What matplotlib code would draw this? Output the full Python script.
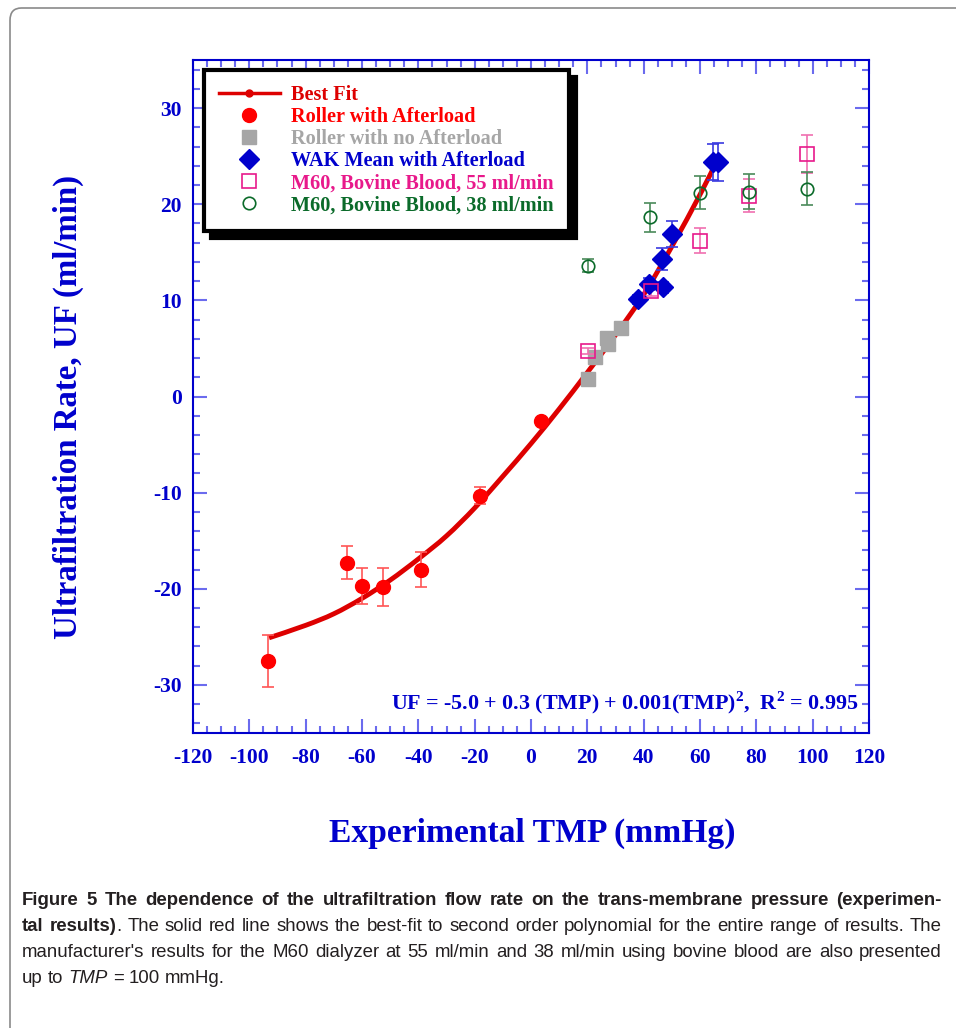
import numpy as np
import matplotlib.pyplot as plt
from matplotlib.lines import Line2D
from matplotlib.patches import FancyBboxPatch, PathPatch
from matplotlib.path import Path
from matplotlib.ticker import MultipleLocator

# 数据
fit_x = [-93, -80, -70, -60, -50, -40, -30, -20, -10, 0, 10, 20, 30, 40, 50, 60, 65.5]
fit_y = [-25.1, -23.8, -22.6, -21.0, -19.1, -16.9, -14.5, -11.6, -8.3, -4.9, -1.3, 2.5, 6.4, 10.6, 15.6, 21.0, 24.2]

roller_x = [-93.2, -65.4, -60.0, -52.5, -38.9, -18.0, 3.7]
roller_y = [-27.5, -17.3, -19.7, -19.8, -18.0, -10.3, -2.5]
roller_err = [2.7, 1.7, 1.9, 2.0, 1.8, 0.9, 0.0]

noload_x = [20.1, 22.8, 27.0, 27.5, 32.0]
noload_y = [1.8, 4.1, 6.1, 5.5, 7.1]

wak_x = [37.9, 41.8, 46.9, 46.4, 50.1, 64.5, 66.4]
wak_y = [10.1, 11.7, 11.35, 14.3, 16.9, 24.4, 24.4]
wak_err = [0.5, 0.6, 0.6, 1.1, 1.35, 1.9, 2.0]

m55_x = [20.2, 42.5, 60.1, 77.5, 98.0]
m55_y = [4.7, 11.0, 16.2, 20.9, 25.2]
m55_err = [0.3, 0.5, 1.3, 1.7, 2.0]

m38_x = [20.2, 42.4, 59.9, 77.4, 97.9]
m38_y = [13.6, 18.65, 21.2, 21.3, 21.6]
m38_err = [0.7, 1.5, 1.7, 1.8, 1.7]

legend_labels = ['Best Fit', 'Roller with Afterload', 'Roller with no Afterload',
                 'WAK Mean with Afterload', 'M60, Bovine Blood, 55 ml/min',
                 'M60, Bovine Blood, 38 ml/min']

BLUE = '#0000cc'
TICKC = '#6b6bee'
FITC = '#dd0000'
REDC = '#ff0000'
GRAYC = '#a6a6a6'
PINKC = '#e8198b'
GREENC = '#0b6b2a'

plt.rcParams['font.family'] = 'Liberation Serif'
plt.rcParams['font.weight'] = 'bold'
plt.rcParams['axes.unicode_minus'] = False
plt.rcParams['mathtext.fontset'] = 'custom'
plt.rcParams['mathtext.rm'] = 'Liberation Serif:bold'
plt.rcParams['mathtext.bf'] = 'Liberation Serif:bold'

fig = plt.figure(figsize=(9.56, 10.28), dpi=100)
ax = fig.add_axes([193 / 956, 1 - 733 / 1028, 676 / 956, 673 / 1028])

# 外框（圆角）
frame = FancyBboxPatch((10 / 956, -0.05), 1.2, 1 - 8 / 1028 + 0.05,
                       boxstyle='round,pad=0,rounding_size=0.012',
                       transform=fig.transFigure, fill=False,
                       edgecolor='#8a8a8a', lw=1.2, clip_on=False)
fig.patches.append(frame)

# 拟合曲线：用贝塞尔曲线平滑连接读出的点
px, py = np.array(fit_x, float), np.array(fit_y, float)
verts = [(px[0], py[0])]
codes = [Path.MOVETO]
for i in range(len(px) - 1):
    i0, i2, i3 = max(i - 1, 0), i + 1, min(i + 2, len(px) - 1)
    c1 = (px[i] + (px[i2] - px[i0]) / 6, py[i] + (py[i2] - py[i0]) / 6)
    c2 = (px[i2] - (px[i3] - px[i]) / 6, py[i2] - (py[i3] - py[i]) / 6)
    verts += [c1, c2, (px[i2], py[i2])]
    codes += [Path.CURVE4] * 3
ax.add_patch(PathPatch(Path(verts, codes), fill=False, edgecolor=FITC, lw=3.5, zorder=2))

# 误差棒 + 点
ax.errorbar(roller_x, roller_y, yerr=roller_err, fmt='o', color=REDC, ms=10,
            ecolor='#ff5555', elinewidth=1.2, capsize=4, capthick=1.2, zorder=3)
ax.plot(noload_x, noload_y, 's', color=GRAYC, ms=10, zorder=3)
ax.errorbar(wak_x, wak_y, yerr=wak_err, fmt='D', color=BLUE, ms=10,
            ecolor='#3a3ae0', elinewidth=1.2, capsize=4, capthick=1.2, zorder=4)
ax.errorbar(m55_x, m55_y, yerr=m55_err, fmt='s', mfc='none', mec=PINKC, ms=10,
            mew=1.2, ecolor='#f070b0', elinewidth=1.2, capsize=4, capthick=1.2, zorder=4)
ax.errorbar(m38_x, m38_y, yerr=m38_err, fmt='o', mfc='none', mec=GREENC, ms=9,
            mew=1.2, ecolor='#4a8a5a', elinewidth=1.2, capsize=4, capthick=1.2, zorder=4)

ax.set_xlim(-120, 120)
ax.set_ylim(-35, 35)
ax.xaxis.set_major_locator(MultipleLocator(20))
ax.xaxis.set_minor_locator(MultipleLocator(5))
ax.yaxis.set_major_locator(MultipleLocator(10))
ax.yaxis.set_minor_locator(MultipleLocator(2))
ax.tick_params(which='both', direction='in', top=True, right=True, color=TICKC, width=1.5)
ax.tick_params(which='major', length=10)
ax.tick_params(which='minor', length=5)
ax.tick_params(axis='x', which='major', labelsize=15.5, labelcolor=BLUE, pad=11)
ax.tick_params(axis='y', which='major', labelsize=15.5, labelcolor=BLUE, pad=8)
for lbl in ax.get_xticklabels() + ax.get_yticklabels():
    lbl.set_fontweight('bold')
for s in ax.spines.values():
    s.set_color(BLUE)
    s.set_linewidth(1.5)

fig.text(68 / 956, 1 - 407 / 1028, 'Ultrafiltration Rate, UF (ml/min)', rotation=90,
         ha='center', va='center', fontsize=23.7, color=BLUE, fontweight='bold')
fig.text(532 / 956, 1 - 833 / 1028, 'Experimental TMP (mmHg)',
         ha='center', va='center', fontsize=24.2, color=BLUE, fontweight='bold')

ax.text(0.985, 0.035, r'UF = -5.0 + 0.3 (TMP) + 0.001(TMP)$^2$,  R$^2$ = 0.995',
        transform=ax.transAxes, ha='right', va='baseline', fontsize=15.8,
        color=BLUE, fontweight='bold')

# 图例
handles = [
    Line2D([], [], color=FITC, lw=2.5, marker='o', ms=5),
    Line2D([], [], ls='none', marker='o', color=REDC, ms=10),
    Line2D([], [], ls='none', marker='s', color=GRAYC, ms=10),
    Line2D([], [], ls='none', marker='D', color=BLUE, ms=10),
    Line2D([], [], ls='none', marker='s', mfc='none', mec=PINKC, ms=10, mew=1.2),
    Line2D([], [], ls='none', marker='o', mfc='none', mec=GREENC, ms=9, mew=1.2),
]
leg = ax.legend(handles, legend_labels, loc='upper left', bbox_to_anchor=(0.016, 0.985),
                borderaxespad=0, handlelength=3.0, handletextpad=0.55,
                labelspacing=0.1, borderpad=0.75, fancybox=False, numpoints=1,
                shadow={'color': 'black', 'alpha': 1, 'ox': 5, 'oy': -5},
                labelcolor=[FITC, REDC, GRAYC, BLUE, PINKC, GREENC],
                prop={'weight': 'bold', 'size': 14.6, 'family': 'Liberation Serif'})
leg.get_frame().set_edgecolor('black')
leg.get_frame().set_linewidth(3)
leg.set_zorder(10)

# 图注（两端对齐）
cap_family = ['Liberation Sans Narrow', 'Liberation Sans', 'DejaVu Sans']
cap_lines = [
    [('Figure 5 The dependence of the ultrafiltration flow rate on the trans-membrane pressure (experimen-', 'bold', 'normal')],
    [('tal results)', 'bold', 'normal'),
     ('. The solid red line shows the best-fit to second order polynomial for the entire range of results. The', 'normal', 'normal')],
    [("manufacturer's results for the M60 dialyzer at 55 ml/min and 38 ml/min using bovine blood are also presented", 'normal', 'normal')],
    [('up to ', 'normal', 'normal'), ('TMP', 'normal', 'italic'), (' = 100 mmHg.', 'normal', 'normal')],
]
cap_justify = [True, True, True, False]
cap_base = [905, 931, 957, 983]
cap_size = 13.4
left_px, right_px = 22, 942


def split_words(segs):
    words = [[]]
    for s, w, st in segs:
        parts = s.split(' ')
        for k, p in enumerate(parts):
            if k > 0:
                words.append([])
            if p:
                words[-1].append((p, w, st))
    return [wd for wd in words if wd]


renderer = fig.canvas.get_renderer()


def seg_width(s, w, st):
    t = fig.text(0, 0, s, fontsize=cap_size, family=cap_family, fontweight=w, fontstyle=st)
    wd = t.get_window_extent(renderer).width
    t.remove()
    return wd


space_px = seg_width('a a', 'normal', 'normal') - seg_width('aa', 'normal', 'normal')
for segs, yb, just in zip(cap_lines, cap_base, cap_justify):
    words = split_words(segs)
    widths = [[seg_width(*sg) for sg in wd] for wd in words]
    total = sum(sum(w) for w in widths)
    gap = (right_px - left_px - total) / (len(words) - 1) if just else space_px
    x = left_px
    for wd, ws in zip(words, widths):
        for (s, w, st), sw in zip(wd, ws):
            fig.text(x / 956, 1 - yb / 1028, s, ha='left', va='baseline', fontsize=cap_size,
                     family=cap_family, fontweight=w, fontstyle=st, color='#231f20')
            x += sw
        x += gap

fig.savefig('out.png', dpi=100)
